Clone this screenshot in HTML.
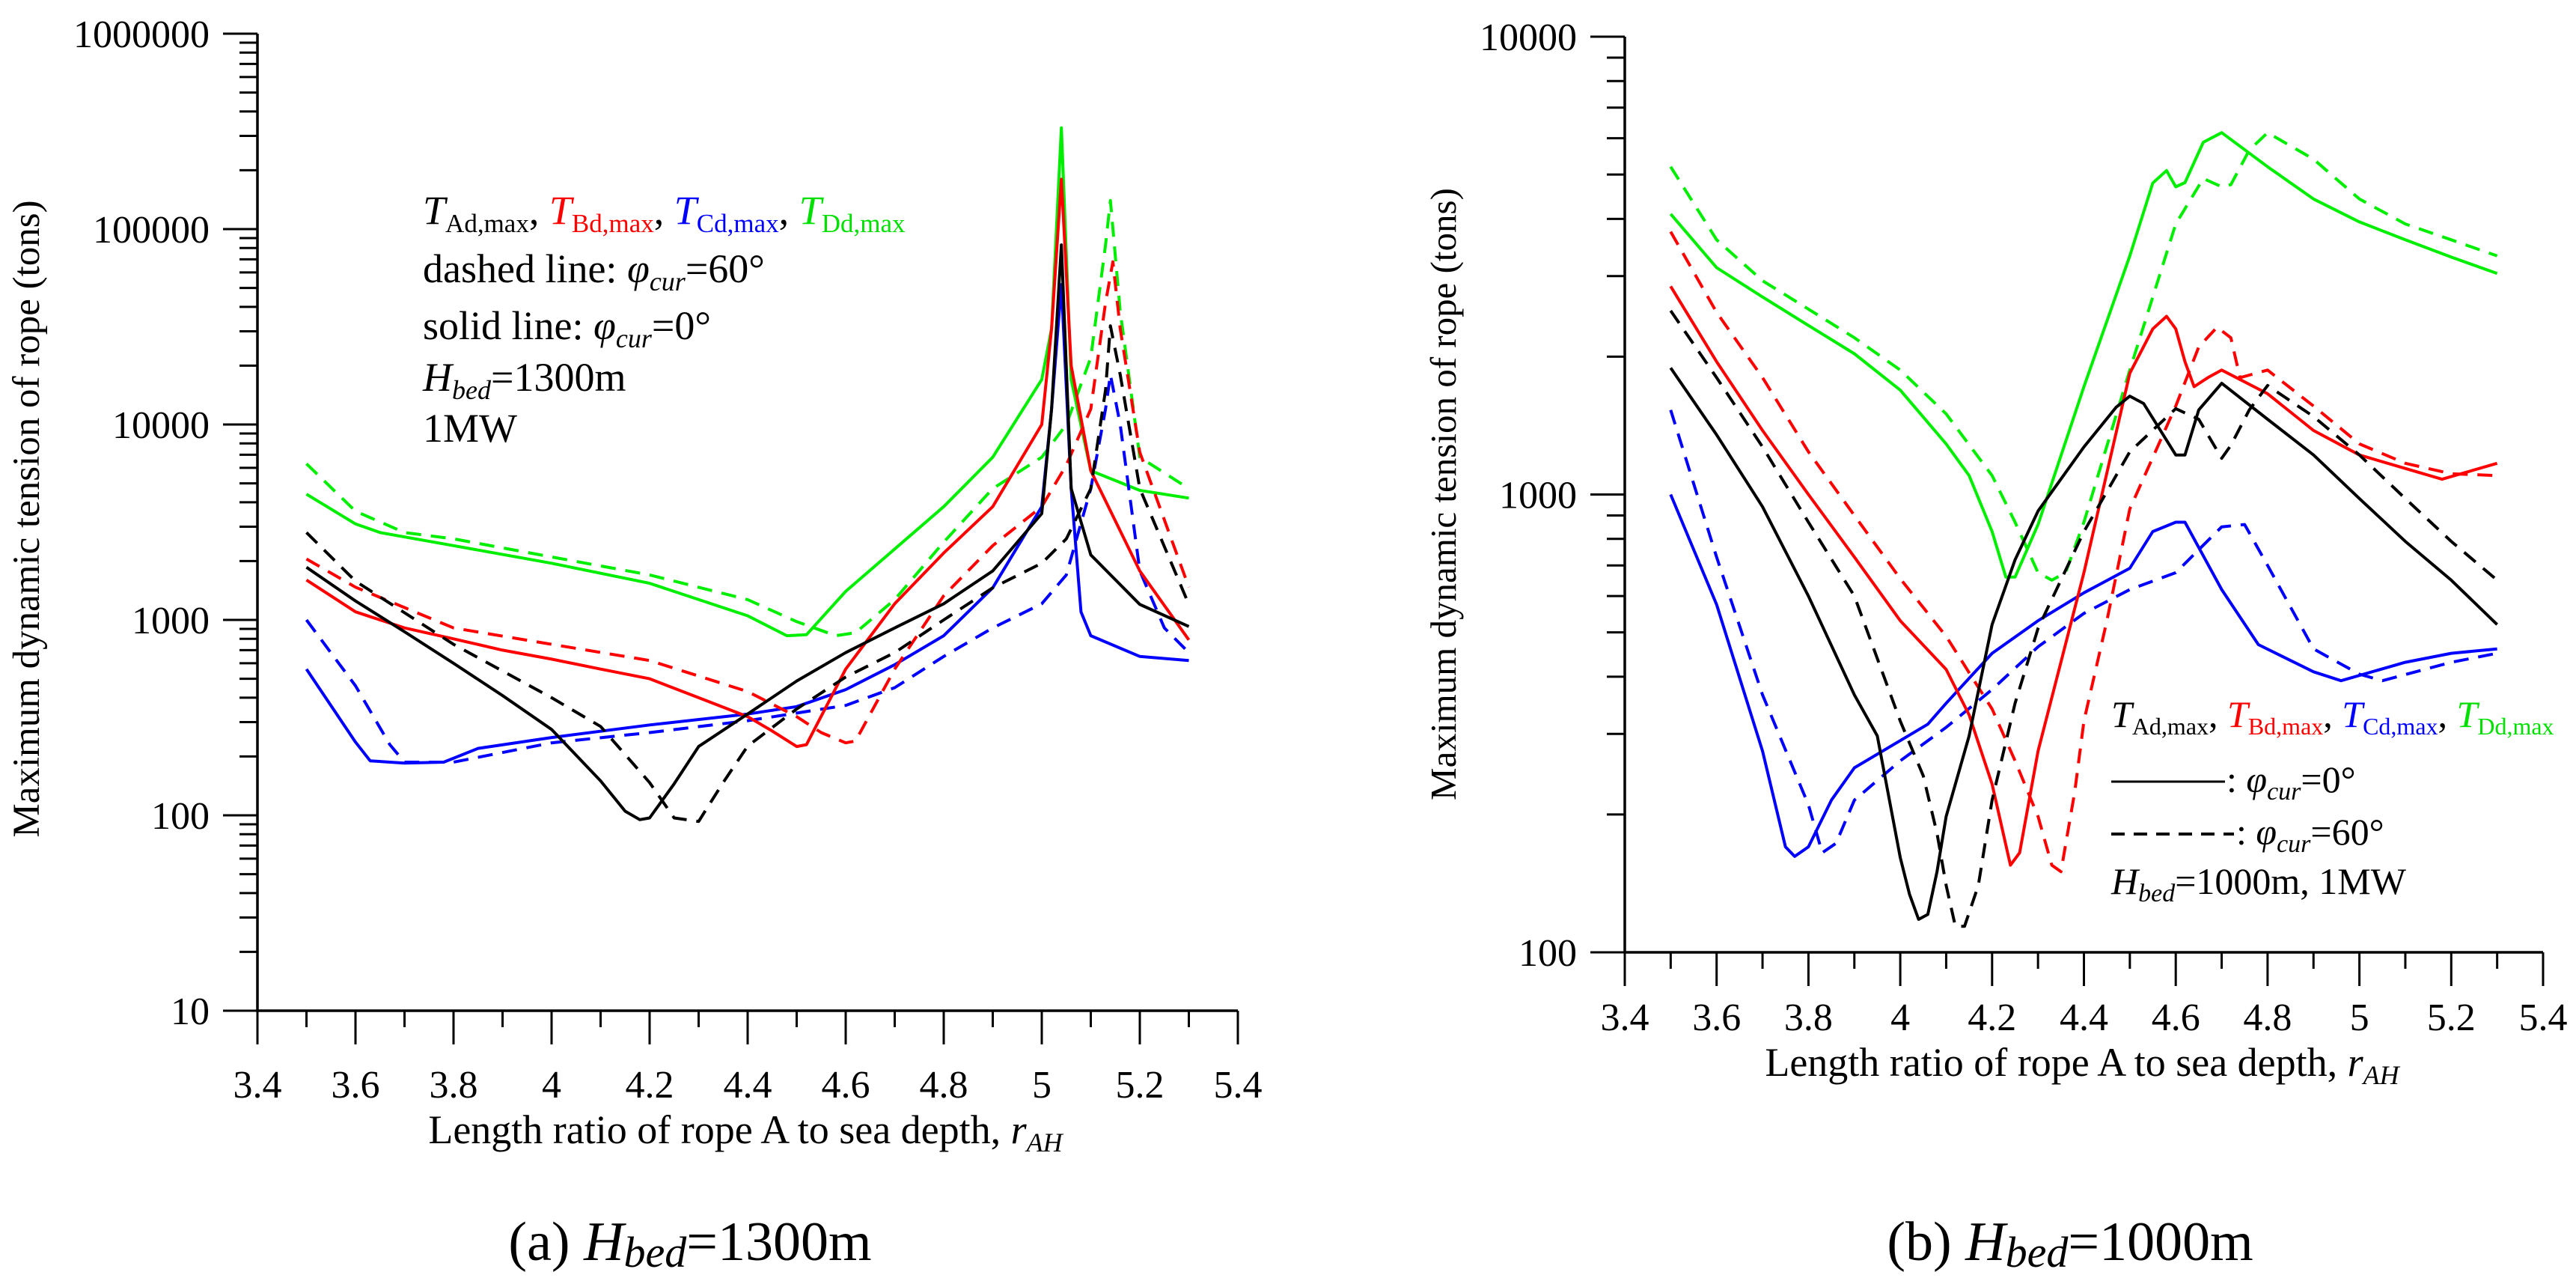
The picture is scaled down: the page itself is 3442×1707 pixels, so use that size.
<!DOCTYPE html>
<html><head><meta charset="utf-8"><style>
html,body{margin:0;padding:0;background:#fff;}
svg{display:block;font-family:"Liberation Serif",serif;}
</style></head><body>
<svg id="fig" width="3442" height="1707" viewBox="0 0 3442 1707" xmlns="http://www.w3.org/2000/svg">
<g id="chartA"></g>
<g id="chartB"></g>

<!-- Left chart texts -->
<text x="52" y="693" font-size="51" text-anchor="middle" transform="rotate(-90 52 693)">Maximum dynamic tension of rope (tons)</text>
<text x="996" y="1527" font-size="54" text-anchor="middle">Length ratio of rope A to sea depth, <tspan font-style="italic">r</tspan><tspan font-style="italic" font-size="36" dy="11">AH</tspan></text>
<text x="922" y="1683" font-size="74" text-anchor="middle">(a) <tspan font-style="italic">H</tspan><tspan font-style="italic" font-size="58" dy="9">bed</tspan><tspan dy="-9">=1300m</tspan></text>
<g font-size="54">
<text x="565" y="299"><tspan font-style="italic">T</tspan><tspan font-size="35" dy="11">Ad,max</tspan><tspan dy="-11">, </tspan><tspan fill="#ff0000" font-style="italic">T</tspan><tspan fill="#ff0000" font-size="35" dy="11">Bd,max</tspan><tspan dy="-11">, </tspan><tspan fill="#0000ff" font-style="italic">T</tspan><tspan fill="#0000ff" font-size="35" dy="11">Cd,max</tspan><tspan dy="-11">, </tspan><tspan fill="#00e000" font-style="italic">T</tspan><tspan fill="#00e000" font-size="35" dy="11">Dd,max</tspan></text>
<text x="565" y="377">dashed line: <tspan font-style="italic">φ</tspan><tspan font-style="italic" font-size="36" dy="11">cur</tspan><tspan dy="-11">=60°</tspan></text>
<text x="565" y="453">solid line: <tspan font-style="italic">φ</tspan><tspan font-style="italic" font-size="36" dy="11">cur</tspan><tspan dy="-11">=0°</tspan></text>
<text x="565" y="522"><tspan font-style="italic">H</tspan><tspan font-style="italic" font-size="36" dy="11">bed</tspan><tspan dy="-11">=1300m</tspan></text>
<text x="565" y="590">1MW</text>
</g>

<!-- Right chart texts -->
<text x="1945" y="660" font-size="49" text-anchor="middle" transform="rotate(-90 1945 660)">Maximum dynamic tension of rope (tons)</text>
<text x="2782" y="1437" font-size="54" text-anchor="middle">Length ratio of rope A to sea depth, <tspan font-style="italic">r</tspan><tspan font-style="italic" font-size="36" dy="11">AH</tspan></text>
<text x="2766" y="1683" font-size="74" text-anchor="middle">(b) <tspan font-style="italic">H</tspan><tspan font-style="italic" font-size="58" dy="9">bed</tspan><tspan dy="-9">=1000m</tspan></text>
<g font-size="50">
<text x="2821" y="971"><tspan font-style="italic">T</tspan><tspan font-size="32" dy="10">Ad,max</tspan><tspan dy="-10">, </tspan><tspan fill="#ff0000" font-style="italic">T</tspan><tspan fill="#ff0000" font-size="32" dy="10">Bd,max</tspan><tspan dy="-10">, </tspan><tspan fill="#0000ff" font-style="italic">T</tspan><tspan fill="#0000ff" font-size="32" dy="10">Cd,max</tspan><tspan dy="-10">, </tspan><tspan fill="#00e000" font-style="italic">T</tspan><tspan fill="#00e000" font-size="32" dy="10">Dd,max</tspan></text>
<line x1="2821" y1="1044" x2="2973" y2="1044" stroke="#000" stroke-width="3"/>
<text x="2975" y="1058">: <tspan font-style="italic">φ</tspan><tspan font-style="italic" font-size="34" dy="10">cur</tspan><tspan dy="-10">=0°</tspan></text>
<line x1="2821" y1="1114" x2="2985" y2="1114" stroke="#000" stroke-width="4" stroke-dasharray="18 12"/>
<text x="2988" y="1128">: <tspan font-style="italic">φ</tspan><tspan font-style="italic" font-size="34" dy="10">cur</tspan><tspan dy="-10">=60°</tspan></text>
<text x="2821" y="1194"><tspan font-style="italic">H</tspan><tspan font-style="italic" font-size="34" dy="10">bed</tspan><tspan dy="-10">=1000m, 1MW</tspan></text>
</g>
</svg>
<script>
// ---------- Chart (a) data: Hbed = 1300 m ----------
const aAd0X = [3.5,3.6,3.7,3.8,3.9,4.0,4.1,4.15,4.18,4.2,4.25,4.3,4.4,4.5,4.6,4.7,4.8,4.9,5.0,5.02,5.04,5.06,5.1,5.2,5.3];
const aAd0Y = [1860,1250,870,600,410,275,150,105,95,97,145,225,330,487,680,910,1210,1780,3500,12000,83000,4700,2150,1200,925];
const aAd60X = [3.5,3.6,3.8,4.0,4.1,4.2,4.25,4.3,4.35,4.4,4.5,4.6,4.7,4.8,4.9,5.0,5.05,5.1,5.13,5.14,5.16,5.2,5.3];
const aAd60Y = [2800,1580,750,400,285,147,97,93,147,226,350,510,680,1000,1460,1950,2600,4700,15000,32000,18000,4700,1200];
const aBd0X = [3.5,3.6,3.7,3.8,3.9,4.0,4.1,4.2,4.3,4.4,4.45,4.5,4.52,4.6,4.7,4.8,4.9,5.0,5.02,5.04,5.06,5.1,5.2,5.3];
const aBd0Y = [1600,1100,910,800,700,630,560,500,400,320,270,225,230,560,1210,2200,3800,10000,31000,180000,20000,5800,1780,790];
const aBd60X = [3.5,3.6,3.8,4.0,4.2,4.4,4.5,4.55,4.6,4.62,4.7,4.8,4.9,5.0,5.05,5.1,5.13,5.145,5.16,5.2,5.3];
const aBd60Y = [2050,1470,910,750,620,430,320,265,235,240,560,1330,2400,3800,6200,12000,42000,68000,31000,7200,1470];
const aCd0X = [3.5,3.6,3.63,3.7,3.78,3.85,4.0,4.2,4.4,4.5,4.6,4.7,4.8,4.9,5.0,5.02,5.04,5.06,5.08,5.1,5.2,5.3];
const aCd0Y = [560,237,190,185,187,220,250,290,330,360,440,590,830,1460,3800,12000,52000,4700,1100,830,650,620];
const aCd60X = [3.5,3.6,3.67,3.7,3.8,4.0,4.2,4.4,4.6,4.7,4.8,4.9,5.0,5.05,5.1,5.13,5.14,5.16,5.2,5.25,5.3];
const aCd60Y = [1000,460,230,187,187,235,265,305,365,450,650,910,1210,1700,4700,12000,18000,10000,1780,910,680];
const aDd0X = [3.5,3.6,3.65,3.8,4.0,4.2,4.4,4.48,4.52,4.6,4.8,4.9,5.0,5.02,5.04,5.06,5.1,5.2,5.3];
const aDd0Y = [4400,3100,2800,2400,1950,1540,1050,830,840,1400,3800,6800,17000,31000,330000,17000,5800,4600,4200];
const aDd60X = [3.5,3.6,3.7,3.8,4.0,4.2,4.4,4.5,4.58,4.62,4.7,4.8,4.9,5.0,5.05,5.1,5.13,5.14,5.16,5.2,5.3];
const aDd60Y = [6300,3600,2800,2600,2100,1700,1270,980,830,860,1270,2500,4700,6800,10000,22000,83000,140000,38000,6800,4700];

// ---------- Chart (b) data: Hbed = 1000 m ----------
const bAd0X = [3.5,3.6,3.7,3.8,3.9,3.95,4.0,4.02,4.04,4.06,4.08,4.1,4.15,4.2,4.25,4.3,4.4,4.47,4.5,4.53,4.6,4.62,4.65,4.7,4.8,4.9,5.0,5.1,5.2,5.3];
const bAd0Y = [1890,1350,940,600,365,297,161,134,118,121,150,198,297,520,720,920,1270,1550,1640,1580,1220,1220,1530,1750,1460,1220,980,790,650,520];
const bAd60X = [3.5,3.6,3.7,3.8,3.9,4.0,4.05,4.08,4.1,4.12,4.14,4.17,4.2,4.25,4.3,4.4,4.5,4.6,4.65,4.7,4.72,4.76,4.8,4.9,5.0,5.1,5.2,5.3];
const bAd60Y = [2520,1800,1270,870,600,320,243,182,140,114,114,140,215,350,510,830,1240,1540,1460,1200,1280,1530,1730,1480,1220,980,790,650];
const bBd0X = [3.5,3.6,3.7,3.8,3.9,4.0,4.1,4.15,4.2,4.24,4.26,4.3,4.4,4.5,4.55,4.58,4.6,4.62,4.64,4.67,4.7,4.8,4.9,5.0,5.1,5.18,5.3];
const bBd0Y = [2850,1950,1380,1000,730,530,415,330,233,155,165,275,675,1840,2300,2450,2300,1950,1720,1800,1870,1660,1380,1220,1140,1080,1170];
const bBd60X = [3.5,3.6,3.7,3.8,3.9,4.0,4.1,4.2,4.25,4.3,4.33,4.35,4.38,4.4,4.45,4.5,4.6,4.65,4.69,4.72,4.74,4.8,4.9,5.0,5.1,5.2,5.3];
const bBd60Y = [3750,2500,1800,1240,900,655,490,340,262,198,155,150,224,320,530,930,1560,2100,2320,2200,1800,1870,1560,1290,1170,1110,1100];
const bCd0X = [3.5,3.6,3.7,3.75,3.77,3.8,3.85,3.9,4.0,4.06,4.1,4.2,4.3,4.4,4.5,4.55,4.6,4.62,4.7,4.78,4.9,4.96,5.1,5.2,5.3];
const bCd0Y = [1000,575,275,170,162,170,215,253,290,315,350,450,530,610,690,830,870,870,620,470,410,392,430,450,460];
const bCd60X = [3.5,3.6,3.7,3.8,3.83,3.86,3.9,4.0,4.1,4.2,4.3,4.4,4.5,4.6,4.7,4.75,4.8,4.9,5.0,5.05,5.2,5.3];
const bCd60Y = [1530,730,365,210,165,173,215,262,310,375,465,550,620,675,850,860,700,460,405,392,430,450];
const bDd0X = [3.5,3.6,3.7,3.8,3.9,4.0,4.1,4.15,4.2,4.23,4.25,4.3,4.4,4.5,4.55,4.58,4.6,4.62,4.66,4.7,4.8,4.9,5.0,5.1,5.2,5.3];
const bDd0Y = [4100,3130,2700,2340,2030,1690,1290,1100,830,660,660,860,1720,3320,4790,5100,4700,4800,5880,6170,5200,4420,3940,3600,3300,3040];
const bDd60X = [3.5,3.6,3.7,3.8,3.9,4.0,4.1,4.2,4.25,4.3,4.33,4.36,4.4,4.5,4.6,4.66,4.7,4.72,4.76,4.8,4.9,5.0,5.1,5.2,5.3];
const bDd60Y = [5200,3600,2930,2540,2200,1870,1500,1100,870,675,650,675,870,1870,3900,4900,4700,4750,5650,6170,5400,4420,3900,3600,3320];

// ---------- Axis definitions ----------
const xTickLabels = ["3.4","3.6","3.8","4","4.2","4.4","4.6","4.8","5","5.2","5.4"];
const aYTickLabels = ["10","100","1000","10000","100000","1000000"];
const bYTickLabels = ["100","1000","10000"];

const NS = "http://www.w3.org/2000/svg";
function mk(parent, tag, attrs) {
  const e = document.createElementNS(NS, tag);
  for (const k in attrs) e.setAttribute(k, attrs[k]);
  parent.appendChild(e);
  return e;
}

function drawChart(g, cfg, yLabels, series, prefix) {
  const sx = v => cfg.x0 + (v - 3.4) / 2 * (cfg.x1 - cfg.x0);
  const sy = v => cfg.yBot - (Math.log10(v) - cfg.logMin) / (cfg.logMax - cfg.logMin) * (cfg.yBot - cfg.yTop);
  const ax = mk(g, "path", {d: `M${cfg.x0},${cfg.yTop} L${cfg.x0},${cfg.yBot} L${cfg.x1},${cfg.yBot}`, fill: "none", stroke: "#000", "stroke-width": 3.5});
  
  
  for (let i = 0; i <= 20; i++) {
    const v = 3.4 + i * 0.1, x = sx(v), major = i % 2 === 0;
    const t = mk(g, "line", {x1: x, y1: cfg.yBot, x2: x, y2: cfg.yBot + (major ? 45 : 22), stroke: "#000", "stroke-width": 3});
    
    
    if (major) {
      const lb = mk(g, "text", {x: x, y: cfg.yBot + cfg.xLabelDy, "font-size": 52, "text-anchor": "middle"});
      lb.textContent = xTickLabels[i / 2];
      
      
    }
  }
  for (let d = cfg.logMin; d <= cfg.logMax; d++) {
    const y = sy(Math.pow(10, d));
    const t = mk(g, "line", {x1: cfg.x0 - 46, y1: y, x2: cfg.x0, y2: y, stroke: "#000", "stroke-width": 3});
    
    
    const lb = mk(g, "text", {x: cfg.x0 - 64, y: y + 18, "font-size": 52, "text-anchor": "end"});
    lb.textContent = yLabels[d - cfg.logMin];
    
    
    if (d < cfg.logMax) {
      for (let k = 2; k <= 9; k++) {
        const ym = sy(k * Math.pow(10, d));
        const m = mk(g, "line", {x1: cfg.x0 - 24, y1: ym, x2: cfg.x0, y2: ym, stroke: "#000", "stroke-width": 3});
        
        
      }
    }
  }
  series.forEach(s => {
    const pts = s.x.map((v, i) => sx(v).toFixed(1) + "," + sy(s.y[i]).toFixed(1)).join(" ");
    const attrs = {points: pts, fill: "none", stroke: s.color, "stroke-width": 4, "stroke-linejoin": "round"};
    if (s.dashed) attrs["stroke-dasharray"] = "20 13";
    const p = mk(g, "polyline", attrs);
    
    
  });
}

const cfgA = {x0: 344, x1: 1654, yTop: 45, yBot: 1350, logMin: 1, logMax: 6, xLabelDy: 116};
const cfgB = {x0: 2171, x1: 3398, yTop: 49, yBot: 1272, logMin: 2, logMax: 4, xLabelDy: 104};
const GREEN = "#00ee00";

drawChart(document.getElementById("chartA"), cfgA, aYTickLabels, [
  {name: "line-dd-0deg", x: aDd0X, y: aDd0Y, color: GREEN, dashed: false},
  {name: "line-dd-60deg", x: aDd60X, y: aDd60Y, color: GREEN, dashed: true},
  {name: "line-cd-0deg", x: aCd0X, y: aCd0Y, color: "#0000ff", dashed: false},
  {name: "line-cd-60deg", x: aCd60X, y: aCd60Y, color: "#0000ff", dashed: true},
  {name: "line-bd-0deg", x: aBd0X, y: aBd0Y, color: "#ff0000", dashed: false},
  {name: "line-bd-60deg", x: aBd60X, y: aBd60Y, color: "#ff0000", dashed: true},
  {name: "line-ad-0deg", x: aAd0X, y: aAd0Y, color: "#000", dashed: false},
  {name: "line-ad-60deg", x: aAd60X, y: aAd60Y, color: "#000", dashed: true}
], "a");

drawChart(document.getElementById("chartB"), cfgB, bYTickLabels, [
  {name: "line-dd-0deg", x: bDd0X, y: bDd0Y, color: GREEN, dashed: false},
  {name: "line-dd-60deg", x: bDd60X, y: bDd60Y, color: GREEN, dashed: true},
  {name: "line-cd-0deg", x: bCd0X, y: bCd0Y, color: "#0000ff", dashed: false},
  {name: "line-cd-60deg", x: bCd60X, y: bCd60Y, color: "#0000ff", dashed: true},
  {name: "line-bd-0deg", x: bBd0X, y: bBd0Y, color: "#ff0000", dashed: false},
  {name: "line-bd-60deg", x: bBd60X, y: bBd60Y, color: "#ff0000", dashed: true},
  {name: "line-ad-0deg", x: bAd0X, y: bAd0Y, color: "#000", dashed: false},
  {name: "line-ad-60deg", x: bAd60X, y: bAd60Y, color: "#000", dashed: true}
], "b");
</script>
</body></html>
